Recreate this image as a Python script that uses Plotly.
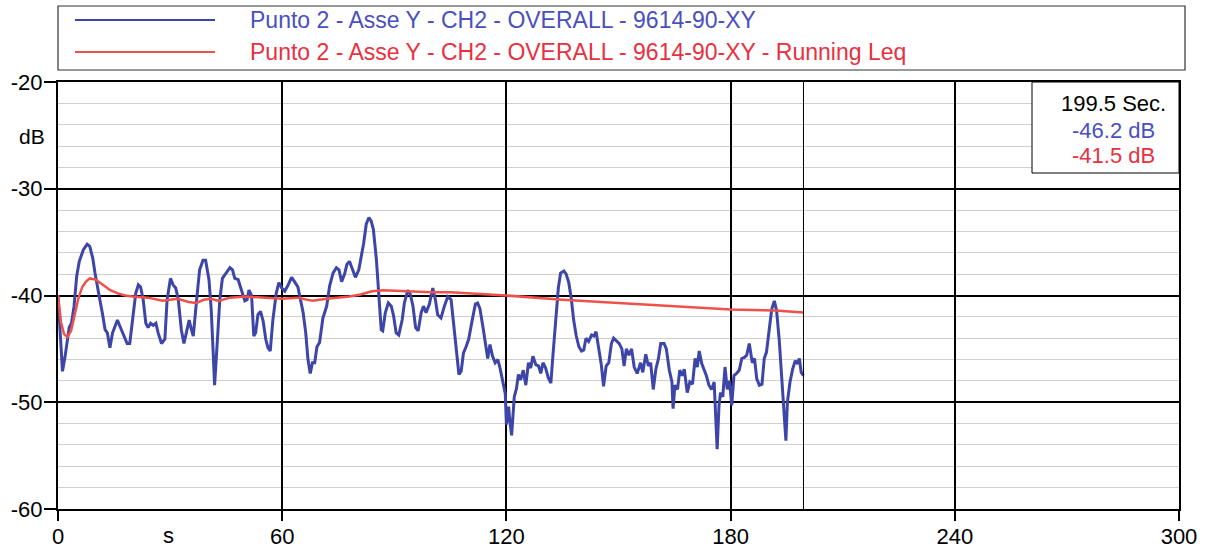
import plotly.graph_objects as go

# Overall vibration level, Punto 2, axis Y
t_overall = [
    0.0, 1.2, 1.9, 2.5, 3.0, 3.6, 4.3, 5.0, 5.7, 6.8, 7.8, 8.5, 9.3, 9.9, 10.5,
    11.2, 11.9, 12.6, 13.2, 13.9, 14.6, 15.3, 15.9, 16.6, 17.5, 18.5, 19.2, 19.9,
    20.8, 21.5, 22.1, 22.8, 23.5, 24.1, 24.8, 25.5, 26.2, 26.8, 27.7, 28.6, 29.2,
    30.1, 30.8, 31.5, 32.2, 33.0, 33.7, 34.4, 35.1, 35.7, 36.2, 37.1, 37.9, 38.8,
    39.5, 40.4, 41.0, 41.5, 41.9, 42.6, 43.3, 44.0, 44.9, 46.0, 46.7, 47.3, 48.2,
    49.1, 50.0, 50.6, 51.1, 51.8, 52.4, 52.9, 53.5, 54.2, 54.9, 55.6, 56.2, 56.8,
    57.5, 58.4, 59.1, 59.9, 60.7, 61.6, 62.5, 63.3, 64.2, 64.9, 65.6, 66.3, 66.9,
    67.5, 68.1, 68.7, 69.3, 70.0, 70.9, 71.9, 72.7, 73.6, 74.5, 75.2, 75.9, 76.7,
    77.3, 78.0, 78.7, 79.6, 80.5, 81.1, 81.8, 82.5, 83.2, 83.8, 84.4, 85.2, 85.9,
    86.5, 86.9, 87.6, 88.4, 89.2, 89.8, 90.5, 91.2, 92.1, 92.7, 93.6, 94.3, 95.0,
    95.7, 96.4, 97.2, 97.8, 98.5, 99.4, 100.3, 101.0, 101.6, 102.5, 103.4, 104.3,
    105.2, 105.8, 106.5, 107.3, 107.9, 108.5, 109.2, 109.9, 110.8, 111.7, 112.3,
    112.9, 113.7, 114.4, 115.0, 115.6, 116.3, 117.0, 117.7, 118.3, 119.0, 119.7,
    120.0, 120.6, 120.9, 121.4, 122.1, 122.7, 123.2, 123.8, 124.5, 125.2, 125.9,
    126.5, 127.1, 127.9, 128.6, 129.2, 129.8, 130.5, 131.2, 131.9, 132.5, 133.2,
    133.9, 134.5, 135.4, 136.0, 136.7, 137.4, 138.0, 138.7, 139.4, 140.1, 140.7,
    141.3, 142.0, 142.8, 143.4, 144.0, 144.7, 145.4, 146.0, 146.7, 147.4, 148.1,
    148.7, 149.6, 150.2, 150.9, 151.5, 152.1, 152.8, 153.5, 154.2, 155.0, 155.9,
    156.5, 157.3, 158.0, 158.6, 159.3, 160.0, 160.7, 161.3, 162.2, 162.8, 163.6,
    164.3, 164.6, 165.1, 165.8, 166.4, 167.1, 167.6, 168.4, 169.1, 169.8, 170.5,
    171.1, 171.6, 172.3, 172.9, 173.5, 174.2, 174.9, 175.6, 176.0, 176.4, 176.9,
    177.3, 177.9, 178.5, 179.1, 179.7, 180.3, 180.9, 181.6, 182.3, 183.0, 183.7,
    184.3, 185.0, 185.8, 186.4, 187.0, 187.7, 188.4, 189.0, 189.6, 190.3, 191.0,
    191.7, 192.3, 193.0, 193.7, 194.4, 194.8, 195.2, 195.9, 196.6, 197.3, 197.9,
    198.4, 198.9, 199.5,
]
db_overall = [
    -40.0, -47.1, -45.7, -44.2, -43.0, -42.6, -41.0, -38.2, -36.8, -35.7, -35.2,
    -35.4, -36.5, -37.9, -39.2, -40.4, -41.7, -43.2, -43.5, -44.9, -43.5, -42.8,
    -42.3, -42.9, -43.7, -44.5, -44.5, -42.3, -39.8, -39.0, -39.2, -40.4, -42.6,
    -43.0, -42.6, -42.8, -42.6, -43.5, -44.5, -44.1, -40.4, -38.4, -39.0, -39.3,
    -40.4, -43.2, -44.5, -43.4, -42.3, -43.2, -43.8, -40.4, -37.6, -36.7, -36.7,
    -38.5, -41.3, -45.1, -48.4, -44.5, -40.4, -38.4, -37.9, -37.4, -37.6, -38.4,
    -38.5, -39.4, -40.5, -40.4, -39.5, -40.0, -43.8, -43.5, -41.8, -41.5, -42.4,
    -44.1, -44.9, -45.2, -42.3, -39.8, -38.8, -39.3, -39.6, -39.0, -38.3, -38.7,
    -39.2, -40.4, -41.6, -43.5, -46.0, -47.3, -46.3, -46.3, -44.8, -44.4, -42.1,
    -41.0, -39.1, -37.9, -37.4, -37.6, -38.7, -38.0, -37.1, -36.8, -37.4, -38.3,
    -37.6, -36.5, -35.1, -33.3, -32.7, -33.0, -33.8, -36.6, -40.1, -43.2, -43.3,
    -41.6, -40.7, -41.0, -41.9, -43.5, -43.7, -42.3, -40.7, -39.5, -39.9, -41.0,
    -43.0, -43.3, -41.6, -41.0, -41.6, -40.8, -39.3, -40.4, -41.8, -42.1, -41.0,
    -40.1, -40.4, -42.6, -45.1, -47.4, -47.1, -45.4, -44.8, -44.1, -42.4, -40.8,
    -40.7, -41.2, -42.9, -44.8, -45.9, -44.6, -45.7, -46.3, -46.0, -46.8, -48.2,
    -49.2, -52.1, -50.4, -51.7, -53.1, -49.5, -48.7, -47.4, -47.9, -47.0, -48.4,
    -46.3, -46.8, -45.7, -46.5, -46.6, -47.3, -46.3, -46.8, -47.7, -48.2, -45.4,
    -41.9, -39.3, -37.9, -37.7, -38.0, -38.8, -40.4, -42.3, -43.8, -44.8, -45.2,
    -45.1, -44.0, -44.3, -43.7, -43.8, -43.4, -44.8, -46.5, -48.5, -46.6, -46.3,
    -44.5, -44.0, -44.3, -44.5, -45.0, -46.6, -45.0, -45.6, -45.0, -46.7, -47.3,
    -46.3, -47.2, -45.5, -46.6, -46.3, -48.8, -46.9, -45.9, -44.5, -44.5, -45.0,
    -47.0, -48.1, -50.6, -48.4, -48.8, -47.0, -47.5, -46.9, -49.1, -48.1, -48.3,
    -45.9, -46.7, -45.2, -46.4, -46.9, -47.5, -48.4, -48.8, -48.1, -50.9, -54.4,
    -50.3, -49.1, -49.5, -46.7, -48.8, -48.0, -50.3, -47.5, -47.3, -47.0, -45.9,
    -45.8, -45.6, -44.5, -46.3, -45.9, -47.8, -48.4, -48.3, -45.9, -45.3, -43.1,
    -41.3, -40.5, -41.4, -44.1, -47.5, -50.9, -53.6, -50.0, -48.1, -46.9, -46.1,
    -46.4, -45.9, -47.2, -47.5,
]

# Running Leq
t_leq = [0, 0.8, 1.6, 2.5, 3.5, 4.5, 5.5, 6.5, 7.5, 8.5, 10, 12, 14, 16, 18, 20,
         24, 28, 32, 35, 37, 39, 41, 43, 46, 50, 55, 60, 64, 68, 72, 78, 81, 84,
         87, 92, 100, 105, 120, 135, 151, 165, 180, 192, 199.5]
db_leq = [-40.0, -42.5, -43.6, -43.9, -43.3, -41.8, -40.2, -39.2, -38.7, -38.4,
          -38.5, -39.0, -39.5, -39.8, -40.0, -40.1, -40.2, -40.5, -40.3, -40.6,
          -40.7, -40.4, -40.3, -40.5, -40.2, -40.1, -40.2, -40.3, -40.2, -40.5,
          -40.3, -40.1, -39.9, -39.6, -39.5, -39.6, -39.7, -39.7, -40.0, -40.4,
          -40.7, -41.0, -41.3, -41.4, -41.6]

name_overall = "Punto 2 - Asse Y - CH2 - OVERALL - 9614-90-XY"
name_leq = "Punto 2 - Asse Y - CH2 - OVERALL - 9614-90-XY - Running Leq"
cursor_time = 199.5
cursor_labels = ["199.5 Sec.", "-46.2 dB", "-41.5 dB"]

x_ticks = [0, 60, 120, 180, 240, 300]
y_ticks = [-60, -50, -40, -30, -20]
y_ticktext = ["-60", "-50", "-40", "-30", "-20"]

BLUE = "#3d46a8"
RED = "#f0504a"
BLUE_TXT = "#4a4fc0"
RED_TXT = "#e8303f"
FONT = "Liberation Sans, Arial, sans-serif"

# plot area in pixels: x 58..1179, y 82..509
def px(x):
    return (x - 58) / 1121

def py(y):
    return (509 - y) / 427


fig = go.Figure()

fig.add_trace(go.Scatter(
    x=t_overall, y=db_overall, mode="lines",
    line=dict(color=BLUE, width=3),
    name=name_overall, showlegend=False,
))
fig.add_trace(go.Scatter(
    x=t_leq, y=db_leq, mode="lines",
    line=dict(color=RED, width=2.5),
    name=name_leq, showlegend=False,
))

shapes = [
    # cursor
    dict(type="line", xref="x", yref="y", x0=cursor_time, x1=cursor_time,
         y0=-60, y1=-20, line=dict(color="black", width=1)),
    # value box
    dict(type="rect", xref="paper", yref="paper", x0=px(1032), x1=1.0,
         y0=py(173), y1=1.0,
         fillcolor="white", line=dict(color="black", width=1), layer="above"),
    # legend box
    dict(type="rect", xref="paper", yref="paper", x0=px(58), x1=px(1185),
         y0=py(70), y1=py(6), line=dict(color="#333333", width=1.2)),
    dict(type="line", xref="paper", yref="paper", x0=px(75), x1=px(215),
         y0=py(20), y1=py(20), line=dict(color=BLUE, width=2)),
    dict(type="line", xref="paper", yref="paper", x0=px(75), x1=px(215),
         y0=py(52), y1=py(52), line=dict(color=RED, width=2)),
]

annotations = [
    dict(text=name_overall, xref="paper", yref="paper", x=px(248), y=py(20),
         xanchor="left", yanchor="middle", showarrow=False,
         font=dict(size=23, color=BLUE_TXT)),
    dict(text=name_leq, xref="paper", yref="paper", x=px(248), y=py(52),
         xanchor="left", yanchor="middle", showarrow=False,
         font=dict(size=23, color=RED_TXT)),
    dict(text="s", xref="paper", yref="paper", x=px(168), y=py(535),
         xanchor="center", yanchor="middle", showarrow=False,
         font=dict(size=22, color="black")),
    dict(text="dB", xref="paper", yref="paper", x=px(32), y=py(136),
         xanchor="center", yanchor="middle", showarrow=False,
         font=dict(size=21, color="black")),
]
for label, color, ypix in zip(cursor_labels, ["black", BLUE_TXT, RED_TXT], [104, 130, 155]):
    annotations.append(dict(
        text=label, xref="paper", yref="paper", x=px(1113), y=py(ypix),
        xanchor="center", yanchor="middle", showarrow=False,
        font=dict(size=22, color=color),
    ))

fig.update_layout(
    width=1205, height=551,
    margin=dict(l=58, r=26, t=82, b=42, autoexpand=False),
    paper_bgcolor="white", plot_bgcolor="white",
    font=dict(family=FONT, size=22, color="black"),
    shapes=shapes, annotations=annotations,
    xaxis=dict(
        range=[0, 300], tickvals=x_ticks, ticks="outside", ticklen=10,
        tickcolor="black", tickwidth=1.5, showgrid=True, gridcolor="black",
        gridwidth=1.5, showline=True, mirror=True, linecolor="black",
        linewidth=2, zeroline=False, tickfont=dict(size=22),
        ticklabelstandoff=-3,
    ),
    yaxis=dict(
        range=[-60, -20], tickvals=y_ticks, ticktext=y_ticktext,
        ticks="outside", ticklen=12,
        tickcolor="black", tickwidth=1.5, showgrid=True, gridcolor="black",
        gridwidth=1.5, showline=True, mirror=True, linecolor="black",
        linewidth=2, zeroline=False, tickfont=dict(size=22),
        ticklabelstandoff=-3,
        minor=dict(dtick=2, showgrid=True, gridcolor="#cfcfcf", gridwidth=1),
    ),
)

# drop the default page margin so the figure sits at the window's corner
fig.write_html("out.html", config={"displayModeBar": False},
               post_script="document.body.style.margin='0';")
